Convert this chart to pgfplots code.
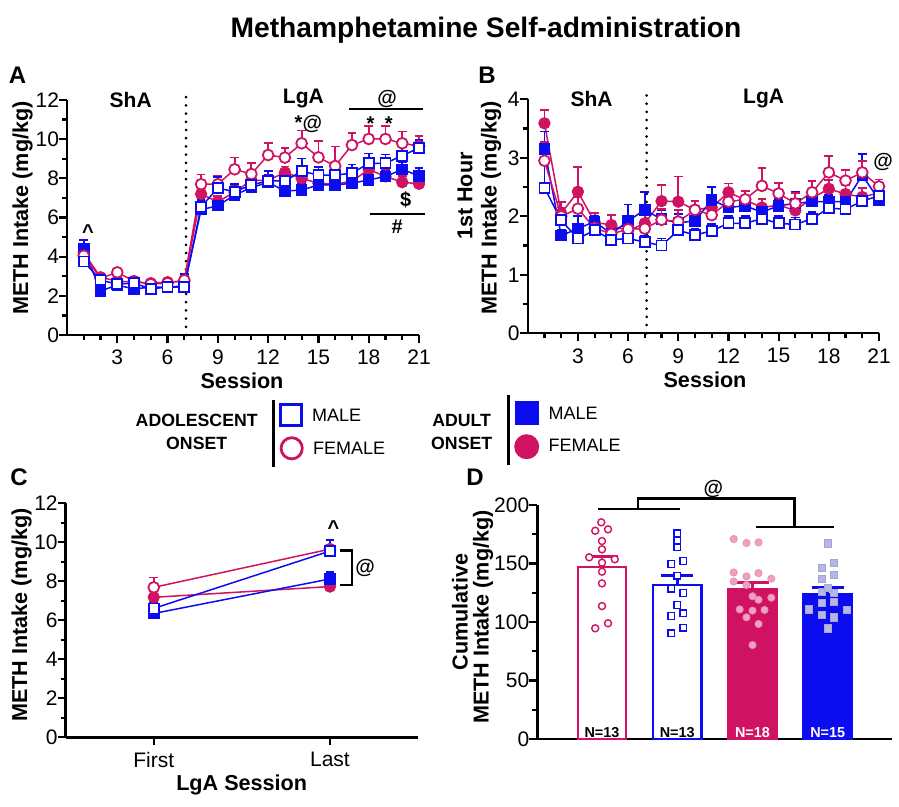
\documentclass[border=0pt]{standalone}
\usepackage{fontspec}
\setmainfont{Liberation Sans}
\usepackage{pgfplots}
\pgfplotsset{compat=1.18}
\usepackage{pgfplotstable}

\definecolor{mag}{RGB}{208,18,98}
\definecolor{blu}{RGB}{12,12,240}
\definecolor{lpink}{RGB}{240,160,192}
\definecolor{lblue}{RGB}{182,182,236}
\newcommand\fsz[1]{\fontsize{#1}{#1}\selectfont}

% session means, upper SEM
\pgfplotstableread{
s af afe df dfe am ame dm dme
1 4.05 0.30 4.20 0.30 3.75 0.30 4.40 0.45
2 2.90 0.15 2.95 0.15 2.80 0.15 2.25 0.15
3 3.20 0.20 2.75 0.15 2.60 0.15 2.55 0.15
4 2.75 0.15 2.70 0.15 2.65 0.15 2.35 0.15
5 2.60 0.15 2.65 0.15 2.35 0.15 2.45 0.15
6 2.65 0.15 2.70 0.15 2.45 0.15 2.45 0.15
7 2.80 0.20 2.75 0.20 2.45 0.25 2.50 0.60
8 7.70 0.50 7.20 0.35 6.55 0.35 6.40 0.30
9 7.70 0.40 6.80 0.30 7.50 0.55 6.60 0.25
10 8.46 0.60 7.30 0.30 7.32 0.40 7.15 0.30
11 8.22 0.55 7.90 0.30 7.66 0.45 7.52 0.35
12 9.19 0.60 7.90 0.30 7.87 0.50 7.80 0.40
13 9.06 0.50 8.30 0.30 7.87 0.40 7.35 0.35
14 9.79 0.65 8.00 0.30 8.36 0.65 7.40 0.35
15 9.07 0.85 7.75 0.30 8.17 0.40 7.66 0.30
16 8.63 1.00 7.70 0.30 8.17 0.35 7.66 0.30
17 9.70 0.60 7.85 0.30 8.26 0.45 7.75 0.30
18 10.01 0.65 8.45 0.35 8.77 0.50 7.92 0.30
19 10.01 0.65 8.10 0.35 8.77 0.45 8.09 0.30
20 9.79 0.60 7.80 0.30 9.16 0.50 8.46 0.35
21 9.65 0.50 7.72 0.25 9.55 0.40 8.12 0.40
}\dataA

\pgfplotstableread{
s af afe df dfe am ame dm dme
1 2.95 0.32 3.59 0.23 2.49 0.40 3.15 0.30
2 2.00 0.15 2.05 0.20 1.93 0.15 1.67 0.10
3 2.13 0.20 2.42 0.42 1.62 0.10 1.79 0.22
4 1.80 0.12 1.90 0.15 1.76 0.10 1.91 0.10
5 1.70 0.12 1.85 0.17 1.60 0.10 1.70 0.12
6 1.78 0.12 1.75 0.12 1.62 0.10 1.92 0.28
7 1.79 0.15 1.88 0.15 1.56 0.10 2.11 0.30
8 1.94 0.18 2.26 0.27 1.50 0.12 1.95 0.15
9 1.91 0.20 2.25 0.43 1.76 0.12 1.89 0.15
10 2.11 0.15 2.11 0.15 1.68 0.10 1.92 0.12
11 2.02 0.15 2.15 0.15 1.75 0.12 2.28 0.22
12 2.25 0.15 2.41 0.15 1.88 0.12 2.15 0.15
13 2.29 0.15 2.28 0.15 1.88 0.12 2.18 0.12
14 2.52 0.30 2.15 0.15 1.96 0.12 2.07 0.12
15 2.39 0.18 2.19 0.15 1.88 0.12 2.18 0.12
16 2.22 0.18 2.10 0.15 1.86 0.12 2.22 0.20
17 2.41 0.20 2.31 0.15 1.96 0.12 2.25 0.12
18 2.75 0.28 2.47 0.15 2.14 0.12 2.25 0.12
19 2.61 0.18 2.38 0.15 2.12 0.12 2.25 0.15
20 2.75 0.20 2.33 0.15 2.26 0.10 2.70 0.36
21 2.51 0.12 2.40 0.12 2.35 0.10 2.28 0.12
}\dataB

\pgfplotstableread{
s af afe df dfe am ame dm dme
1 7.69 0.50 7.18 0.15 6.61 0.30 6.35 0.15
2 9.65 0.45 7.73 0.10 9.55 0.55 8.12 0.37
}\dataC

\tikzset{
  ann/.style={font=\bfseries\fsz{10}},
  dotv/.style={line width=1.5pt, line cap=round, dash pattern=on 0pt off 4.1pt},
}
\pgfplotsset{
  gp/.style={
    scale only axis, clip=false,
    axis x line*=bottom, axis y line*=left,
    axis line style={line width=1.2pt,-},
    tick align=outside,
    major tick length=4pt, minor tick length=2.5pt,
    every tick/.style={line width=1.1pt,black},
    tick label style={font=\fsz{10.5}},
    yticklabel style={xshift=3.5pt},
    /pgf/number format/assume math mode=true,
  },
  ebar/.style={error bars/.cd, y dir=plus, y explicit,
    error bar style={line width=0.9pt,#1},
    error mark options={rotate=90,mark size=2.2pt,line width=0.9pt,#1}},
  sAF/.style={mag, line width=0.75pt, mark=*, mark size=2.7pt,
    mark options={fill=white,line width=0.9pt}, ebar=mag},
  sDF/.style={mag, line width=0.75pt, mark=*, mark size=2.7pt,
    mark options={fill=mag}, ebar=mag},
  sAM/.style={blu, line width=0.75pt, mark=square*, mark size=2.5pt,
    mark options={fill=white,line width=0.9pt}, ebar=blu},
  sDM/.style={blu, line width=0.75pt, mark=square*, mark size=2.5pt,
    mark options={fill=blu}, ebar=blu},
  bebar/.style={draw=none, mark=none, error bars/.cd, y dir=plus, y explicit,
    error bar style={line width=1.3pt,#1},
    error mark options={rotate=90,mark size=8pt,line width=1.3pt,#1}},
}

\begin{document}
\begin{tikzpicture}
\path[use as bounding box] (0,0) rectangle (449.5pt,-403.5pt);

\node[font=\bfseries\fsz{14.1}] at (243pt,-15pt) {Methamphetamine Self-administration};

% ---------- A
\node[font=\bfseries\fsz{12}] at (8.75pt,-37.5pt) {A};
\begin{axis}[gp, at={(33.5pt,-167.5pt)}, anchor=south west,
  width=176pt, height=117.5pt,
  xmin=0, xmax=21, ymin=0, ymax=12,
  xtick={3,6,...,21}, minor xtick={1,...,21},
  ytick={0,2,...,12}, minor ytick={1,3,...,11}]
\draw[dotv] (axis cs:7.1,0) -- (axis cs:7.1,12.3);
\addplot[sDF] table[x=s,y=df,y error=dfe] {\dataA};
\addplot[sDM] table[x=s,y=dm,y error=dme] {\dataA};
\addplot[sAF] table[x=s,y=af,y error=afe] {\dataA};
\addplot[sAM] table[x=s,y=am,y error=ame] {\dataA};
\node[ann,font=\bfseries\fsz{10.5}] at (axis cs:3.8,12.0) {ShA};
\node[ann,font=\bfseries\fsz{10.5}] at (axis cs:14.1,12.1) {LgA};
\node[ann] at (axis cs:1.25,5.3) {\textasciicircum};
\node[ann] at (axis cs:14.4,10.8) {*@};
\node[ann] at (axis cs:19.1,12.05) {@};
\draw[line width=1.2pt] (axis cs:16.85,11.54) -- (axis cs:21.25,11.54);
\node[ann] at (axis cs:18.1,10.8) {*};
\node[ann] at (axis cs:19.2,10.8) {*};
\node[ann] at (axis cs:20.2,6.9) {\$};
\draw[line width=1.2pt] (axis cs:18.05,6.18) -- (axis cs:21.35,6.18);
\node[ann] at (axis cs:19.7,5.55) {\#};
\end{axis}
\node[rotate=90,font=\bfseries\fsz{10.8}] at (11.35pt,-104pt) {METH Intake (mg/kg)};
\node[font=\bfseries\fsz{10.8}] at (121pt,-190.5pt) {Session};

% ---------- B
\node[font=\bfseries\fsz{12}] at (243.5pt,-37.5pt) {B};
\begin{axis}[gp, at={(263.85pt,-166.65pt)}, anchor=south west,
  width=175.65pt, height=117pt,
  xmin=0, xmax=21, ymin=0, ymax=4,
  xtick={3,6,...,21}, minor xtick={1,...,21},
  ytick={0,1,...,4}, minor ytick={0.5,1.5,2.5,3.5}]
\draw[dotv] (axis cs:7.11,0) -- (axis cs:7.11,4.1);
\addplot[sDF] table[x=s,y=df,y error=dfe] {\dataB};
\addplot[sDM] table[x=s,y=dm,y error=dme] {\dataB};
\addplot[sAF] table[x=s,y=af,y error=afe] {\dataB};
\addplot[sAM] table[x=s,y=am,y error=ame] {\dataB};
\node[ann,font=\bfseries\fsz{10.5}] at (axis cs:3.82,4.0) {ShA};
\node[ann,font=\bfseries\fsz{10.5}] at (axis cs:14.1,4.02) {LgA};
\node[ann] at (axis cs:21.25,2.93) {@};
\end{axis}
\node[rotate=90,font=\bfseries\fsz{10.8}] at (232.5pt,-98pt) {1st Hour};
\node[rotate=90,font=\bfseries\fsz{10.8}] at (245.5pt,-104pt) {METH Intake (mg/kg)};
\node[font=\bfseries\fsz{10.8}] at (352.5pt,-190pt) {Session};

% ---------- legend
\begin{scope}[font=\fsz{9}]
\node[font=\bfseries\fsz{8.85}] at (98.35pt,-210pt) {ADOLESCENT};
\node[font=\bfseries\fsz{8.85}] at (98.35pt,-221.5pt) {ONSET};
\draw[line width=1.2pt] (136.65pt,-200pt) -- (136.65pt,-233.35pt);
\draw[blu,line width=1.4pt,fill=white] (140.3pt,-202.3pt) rectangle (150.7pt,-212.7pt);
\node[anchor=west,inner sep=0pt] at (155.85pt,-207.5pt) {MALE};
\draw[mag,line width=1.4pt,fill=white] (145.85pt,-224.15pt) circle (5.3pt);
\node[anchor=west,inner sep=0pt] at (156.35pt,-224.15pt) {FEMALE};
\node[font=\bfseries\fsz{8.85}] at (230.85pt,-210pt) {ADULT};
\node[font=\bfseries\fsz{8.85}] at (230.85pt,-221.65pt) {ONSET};
\draw[line width=1.2pt] (254.15pt,-197.5pt) -- (254.15pt,-232.5pt);
\fill[blu] (257.35pt,-200.35pt) rectangle (269.35pt,-212.35pt);
\node[anchor=west,inner sep=0pt] at (274.15pt,-206.65pt) {MALE};
\fill[mag] (263.35pt,-223.35pt) circle (6.25pt);
\node[anchor=west,inner sep=0pt] at (274.15pt,-222.5pt) {FEMALE};
\end{scope}

% ---------- C
\node[font=\bfseries\fsz{12}] at (9.5pt,-238.5pt) {C};
\begin{axis}[gp, at={(32.85pt,-368.65pt)}, anchor=south west,
  width=176.15pt, height=117pt,
  xmin=0.5, xmax=2.5, ymin=0, ymax=12,
  xtick={1,2}, xticklabels={First,Last},
  ytick={0,2,...,12}, minor ytick={1,3,...,11}]
\addplot[sDF] table[x=s,y=df,y error=dfe] {\dataC};
\addplot[sDM] table[x=s,y=dm,y error=dme] {\dataC};
\addplot[sAF] table[x=s,y=af,y error=afe] {\dataC};
\addplot[sAM] table[x=s,y=am,y error=ame] {\dataC};
\node[ann] at (axis cs:2.02,10.75) {\textasciicircum};
\draw[line width=1.2pt] (axis cs:2.06,9.57) -| (axis cs:2.125,7.8) -- (axis cs:2.06,7.8);
\node[ann] at (axis cs:2.2,8.67) {@};
\end{axis}
\node[rotate=90,font=\bfseries\fsz{10.8}] at (10.85pt,-307.5pt) {METH Intake (mg/kg)};
\node[font=\bfseries\fsz{10.8}] at (120.85pt,-392.5pt) {LgA Session};

% ---------- D
\node[font=\bfseries\fsz{12}] at (237.5pt,-238.5pt) {D};
\begin{axis}[gp, at={(268.65pt,-369.5pt)}, anchor=south west,
  width=177.2pt, height=117pt,
  xmin=0.14, xmax=4.85, ymin=0, ymax=200,
  xtick=\empty,
  ytick={0,50,...,200}, minor ytick={25,75,125,175}]
\addplot[ybar, bar shift=0pt, bar width=0.64, draw=mag, fill=white, line width=1.3pt] coordinates {(1,147)};
\addplot[ybar, bar shift=0pt, bar width=0.64, draw=blu, fill=white, line width=1.3pt] coordinates {(2,131.6)};
\addplot[ybar, bar shift=0pt, bar width=0.64, draw=mag, fill=mag, line width=1.3pt] coordinates {(3,128)};
\addplot[ybar, bar shift=0pt, bar width=0.64, draw=blu, fill=blu, line width=1.3pt] coordinates {(4,123.7)};
\addplot[only marks, mark=*, mark size=1.75pt, mag, mark options={fill=white,line width=0.7pt}] coordinates {
 (0.99,185.2) (0.91,178) (1.08,179.2) (1.0,169.2) (1.0,162.1) (0.83,155.3) (1.17,153.6)
 (1.0,150.7) (1.0,143) (1.0,133) (1.0,113.6) (0.91,94.6) (1.08,98.9)};
\addplot[only marks, mark=square*, mark size=1.7pt, blu, mark options={fill=white,line width=0.7pt}] coordinates {
 (2.0,175.8) (2.0,169.6) (2.0,163.9) (1.92,149.5) (2.08,152.1) (2.0,139.6) (1.92,128.5)
 (2.08,124.8) (2.0,114.5) (1.92,105.1) (2.08,107.4) (2.08,95.2) (1.92,90.4)};
\addplot[only marks, mark=*, mark size=1.8pt, lpink, mark options={draw=lpink!85!mag,fill=lpink,line width=0.4pt}] coordinates {
 (2.75,170.9) (2.92,167.5) (3.08,168) (2.75,142.3) (2.92,139) (3.08,141.8) (3.25,137)
 (2.75,134.6) (2.92,131.6) (3.08,119) (3.25,120.8) (2.83,110.8) (3.0,109.7) (3.16,110.3)
 (2.92,104) (3.08,98.3) (3.0,80.3) (3.0,122)};
\addplot[only marks, mark=square*, mark size=1.8pt, lblue, mark options={draw=lblue!70!gray,fill=lblue,line width=0.4pt}] coordinates {
 (4.0,167.2) (4.08,150.7) (3.92,146) (3.92,136.5) (4.08,140.2) (3.92,126) (4.0,129)
 (4.08,117.4) (3.92,116) (3.75,110.8) (4.25,110.3) (3.92,106) (4.08,104) (4.0,94.6) (4.08,125)};
\addplot[bebar=mag] coordinates {(1,147) +- (0,9.2) (3,128) +- (0,6)};
\addplot[bebar=blu] coordinates {(2,131.6) +- (0,8.4) (4,123.7) +- (0,5.9)};
\node[font=\bfseries\fsz{7.2},anchor=base] at (axis cs:1,1.5) {N=13};
\node[font=\bfseries\fsz{7.2},anchor=base] at (axis cs:2,1.5) {N=13};
\node[font=\bfseries\fsz{7.2},anchor=base,white] at (axis cs:3,1.5) {N=18};
\node[font=\bfseries\fsz{7.2},anchor=base,white] at (axis cs:4,1.5) {N=15};
\draw[line width=1.2pt] (axis cs:0.95,196.6) -- (axis cs:2.035,196.6);
\draw[line width=1.2pt] (axis cs:1.48,196.6) |- (axis cs:3.56,205.7) -- (axis cs:3.56,181.4);
\draw[line width=1.2pt] (axis cs:3.04,181.4) -- (axis cs:4.08,181.4);
\node[ann] at (axis cs:2.48,214) {@};
\end{axis}
\node[rotate=90,font=\bfseries\fsz{10.8}] at (230pt,-306pt) {Cumulative};
\node[rotate=90,font=\bfseries\fsz{10.8}] at (241.5pt,-308.5pt) {METH Intake (mg/kg)};
\end{tikzpicture}
\end{document}
